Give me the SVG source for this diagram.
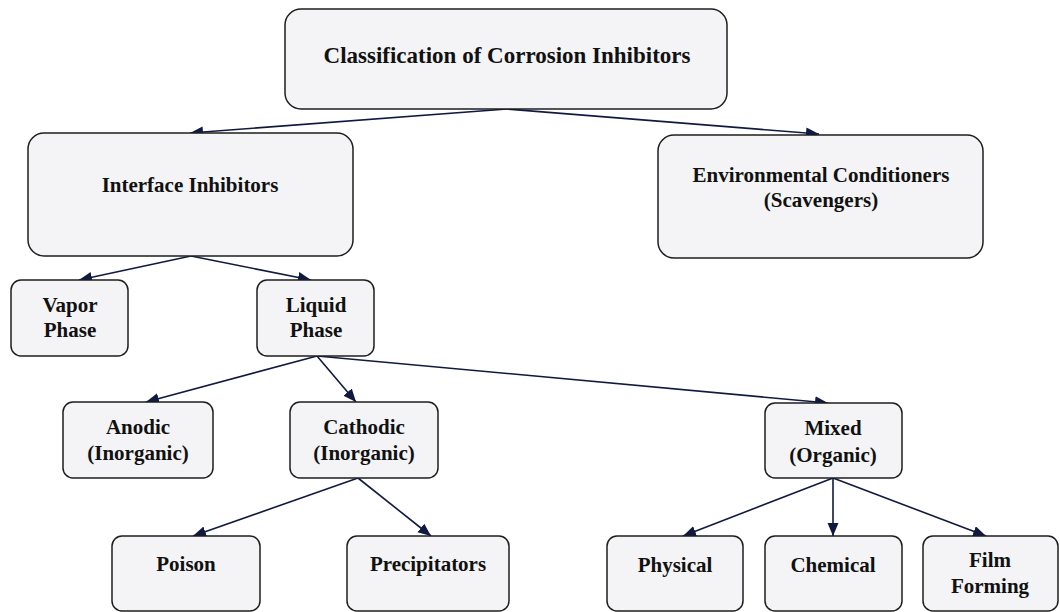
<svg xmlns="http://www.w3.org/2000/svg" width="1060" height="612" viewBox="0 0 1060 612">
<defs>
<marker id="ah" markerUnits="userSpaceOnUse" markerWidth="14" markerHeight="12" refX="13" refY="5.5" orient="auto">
<path d="M0,0 L13,5.5 L0,11 z" fill="#101a40"/>
</marker>
<style>
.box{fill:#f4f4f6;stroke:#1e1e1e;stroke-width:1.5}
.t{font-family:"Liberation Serif","Times New Roman",serif;font-weight:bold;font-size:21px;fill:#111;text-anchor:middle}
.big{font-size:23px}
.c{stroke:#101a40;stroke-width:1.6;fill:none;marker-end:url(#ah)}
</style>
</defs>
<rect width="1060" height="612" fill="#ffffff"/>
<g id="connectors">
<line class="c" x1="507" y1="109" x2="190" y2="133"/>
<line class="c" x1="507" y1="109" x2="819" y2="134"/>
<line class="c" x1="191" y1="256" x2="79" y2="280"/>
<line class="c" x1="191" y1="256" x2="311" y2="280"/>
<line class="c" x1="317" y1="356" x2="146" y2="402"/>
<line class="c" x1="317" y1="356" x2="356" y2="402"/>
<line class="c" x1="317" y1="356" x2="828" y2="403"/>
<line class="c" x1="358" y1="478" x2="193" y2="536"/>
<line class="c" x1="358" y1="478" x2="431" y2="536"/>
<line class="c" x1="833" y1="478" x2="683" y2="536"/>
<line class="c" x1="833" y1="478" x2="833" y2="536"/>
<line class="c" x1="833" y1="478" x2="986" y2="536"/>
</g>
<g id="n-root">
<rect class="box" x="285" y="9" width="442" height="100" rx="16"/>
<text class="t big" x="507" y="63">Classification of Corrosion Inhibitors</text>
</g>
<g id="n-interface">
<rect class="box" x="28" y="133" width="325" height="123" rx="16"/>
<text class="t" x="190" y="192">Interface Inhibitors</text>
</g>
<g id="n-env">
<rect class="box" x="658" y="135" width="325" height="123" rx="16"/>
<text class="t" x="821" y="182">Environmental Conditioners</text>
<text class="t" x="821" y="207">(Scavengers)</text>
</g>
<g id="n-vapor">
<rect class="box" x="11" y="280" width="117" height="76" rx="10"/>
<text class="t" x="70" y="312">Vapor</text>
<text class="t" x="70" y="337">Phase</text>
</g>
<g id="n-liquid">
<rect class="box" x="257" y="280" width="117" height="76" rx="10"/>
<text class="t" x="316" y="312">Liquid</text>
<text class="t" x="316" y="337">Phase</text>
</g>
<g id="n-anodic">
<rect class="box" x="63" y="402" width="150" height="76" rx="10"/>
<text class="t" x="138" y="434">Anodic</text>
<text class="t" x="138" y="460">(Inorganic)</text>
</g>
<g id="n-cathodic">
<rect class="box" x="290" y="402" width="148" height="76" rx="10"/>
<text class="t" x="364" y="434">Cathodic</text>
<text class="t" x="364" y="460">(Inorganic)</text>
</g>
<g id="n-mixed">
<rect class="box" x="765" y="403" width="137" height="75" rx="10"/>
<text class="t" x="833" y="435">Mixed</text>
<text class="t" x="833" y="462">(Organic)</text>
</g>
<g id="n-poison">
<rect class="box" x="112" y="536" width="148" height="75" rx="10"/>
<text class="t" x="186" y="571">Poison</text>
</g>
<g id="n-precip">
<rect class="box" x="347" y="536" width="162" height="75" rx="10"/>
<text class="t" x="428" y="571">Precipitators</text>
</g>
<g id="n-physical">
<rect class="box" x="607" y="536" width="136" height="75" rx="10"/>
<text class="t" x="675" y="572">Physical</text>
</g>
<g id="n-chemical">
<rect class="box" x="765" y="536" width="137" height="75" rx="10"/>
<text class="t" x="833" y="572">Chemical</text>
</g>
<g id="n-film">
<rect class="box" x="923" y="536" width="135" height="75" rx="10"/>
<text class="t" x="990" y="567">Film</text>
<text class="t" x="990" y="593">Forming</text>
</g>
</svg>
